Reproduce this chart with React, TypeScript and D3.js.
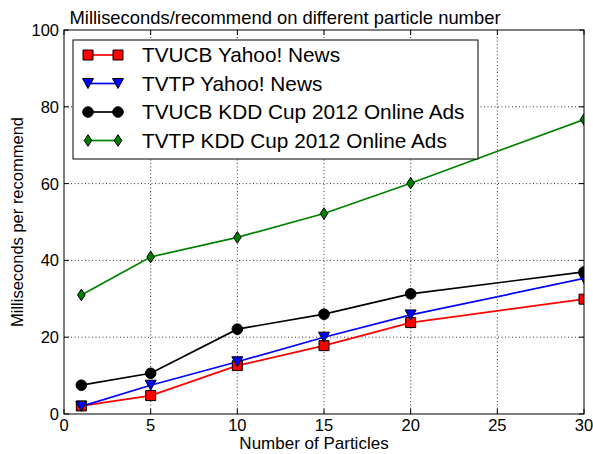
import { line, scaleLinear } from 'd3'

const particles = [1, 5, 10, 15, 20, 30]
const tvucbYahoo = [2.1, 4.8, 12.6, 17.8, 23.8, 29.9]
const tvtpYahoo = [2.0, 7.5, 13.6, 20.0, 25.8, 35.3]
const tvucbKdd = [7.5, 10.6, 22.1, 26.0, 31.3, 37.0]
const tvtpKdd = [31.0, 40.9, 46.0, 52.2, 60.1, 76.7]
const xTicks = [0, 5, 10, 15, 20, 25, 30]
const yTicks = [0, 20, 40, 60, 80, 100]

type Marker = 'square' | 'triangleDown' | 'circle' | 'thinDiamond'

type Series = {
  readonly label: string
  readonly values: readonly number[]
  readonly color: string
  readonly marker: Marker
}

const series: Series[] = [
  { label: 'TVUCB Yahoo! News', values: tvucbYahoo, color: '#ff0000', marker: 'square' },
  { label: 'TVTP Yahoo! News', values: tvtpYahoo, color: '#0000ff', marker: 'triangleDown' },
  { label: 'TVUCB KDD Cup 2012 Online Ads', values: tvucbKdd, color: '#000000', marker: 'circle' },
  { label: 'TVTP KDD Cup 2012 Online Ads', values: tvtpKdd, color: '#008000', marker: 'thinDiamond' },
]

const width = 593
const height = 454
const left = 64
const right = 584
const top = 30
const bottom = 414
const font = '"Liberation Sans", Arial, sans-serif'

function markerPath(marker: Marker): string {
  switch (marker) {
    case 'square':
      return 'M-5,-5H5V5H-5Z'
    case 'triangleDown':
      return 'M0,5L-5.5,-5H5.5Z'
    case 'circle':
      return 'M5.3,0A5.3,5.3 0 1 1 -5.3,0A5.3,5.3 0 1 1 5.3,0Z'
    case 'thinDiamond':
      return 'M0,-5.8L3.8,0L0,5.8L-3.8,0Z'
  }
}

function MarkerShape({ marker, color, x, y }: { marker: Marker; color: string; x: number; y: number }) {
  return (
    <path
      d={markerPath(marker)}
      transform={`translate(${x},${y})`}
      fill={color}
      stroke="#000"
      strokeWidth={1}
    />
  )
}

export default function App() {
  const xScale = scaleLinear().domain([0, 30]).range([left, right])
  const yScale = scaleLinear().domain([0, 100]).range([bottom, top])
  const pathFor = line<number>()
    .x((_, i) => xScale(particles[i]))
    .y((value) => yScale(value))

  const legendX = 73
  const legendY = 40
  const legendW = 405
  const legendH = 119
  const rowGap = 28.5

  return (
    <svg
      width={width}
      height={height}
      style={{ position: 'fixed', left: 0, top: 0, background: '#fff' }}
      fontFamily={font}
    >
      <defs>
        <clipPath id="plot-area">
          <rect x={left} y={top} width={right - left} height={bottom - top} />
        </clipPath>
      </defs>

      {/* grid */}
      {xTicks.slice(1, -1).map((t) => (
        <line
          key={`gx-${t}`}
          x1={xScale(t)}
          x2={xScale(t)}
          y1={top}
          y2={bottom}
          stroke="#000"
          strokeWidth={0.8}
          strokeDasharray="1,2.5"
        />
      ))}
      {yTicks.slice(1, -1).map((t) => (
        <line
          key={`gy-${t}`}
          x1={left}
          x2={right}
          y1={yScale(t)}
          y2={yScale(t)}
          stroke="#000"
          strokeWidth={0.8}
          strokeDasharray="1,2.5"
        />
      ))}

      {/* ticks, inward on every side */}
      {xTicks.map((t) => (
        <g key={`tx-${t}`} stroke="#000" strokeWidth={1}>
          <line x1={xScale(t)} x2={xScale(t)} y1={bottom} y2={bottom - 5} />
          <line x1={xScale(t)} x2={xScale(t)} y1={top} y2={top + 5} />
        </g>
      ))}
      {yTicks.map((t) => (
        <g key={`ty-${t}`} stroke="#000" strokeWidth={1}>
          <line x1={left} x2={left + 5} y1={yScale(t)} y2={yScale(t)} />
          <line x1={right} x2={right - 5} y1={yScale(t)} y2={yScale(t)} />
        </g>
      ))}

      {/* data */}
      <g clipPath="url(#plot-area)">
        {series.map((s) => (
          <path key={`l-${s.label}`} d={pathFor(s.values as number[]) ?? ''} fill="none" stroke={s.color} strokeWidth={1.7} />
        ))}
        {series.map((s) =>
          s.values.map((v, i) => (
            <MarkerShape key={`m-${s.label}-${i}`} marker={s.marker} color={s.color} x={xScale(particles[i])} y={yScale(v)} />
          )),
        )}
      </g>

      <rect x={left} y={top} width={right - left} height={bottom - top} fill="none" stroke="#000" strokeWidth={1} />

      {/* tick labels */}
      {xTicks.map((t) => (
        <text key={`lx-${t}`} x={xScale(t)} y={431} textAnchor="middle" fontSize={16.5}>
          {t}
        </text>
      ))}
      {yTicks.map((t) => (
        <text key={`ly-${t}`} x={left - 5} y={yScale(t) + 6} textAnchor="end" fontSize={16.5}>
          {t}
        </text>
      ))}

      {/* titles */}
      <text x={285} y={24} textAnchor="middle" fontSize={18.4}>
        Milliseconds/recommend on different particle number
      </text>
      <text x={(left + right) / 2 - 10} y={449} textAnchor="middle" fontSize={17}>
        Number of Particles
      </text>
      <text
        transform={`translate(23,${(top + bottom) / 2}) rotate(-90)`}
        textAnchor="middle"
        fontSize={16.5}
      >
        Milliseconds per recommend
      </text>

      {/* legend */}
      <rect x={legendX} y={legendY} width={legendW} height={legendH} fill="#fff" stroke="#000" strokeWidth={1} />
      {series.map((s, i) => {
        const cy = legendY + 15 + i * rowGap
        return (
          <g key={`lg-${s.label}`}>
            <line x1={88} x2={118} y1={cy} y2={cy} stroke={s.color} strokeWidth={1.7} />
            <MarkerShape marker={s.marker} color={s.color} x={88} y={cy} />
            <MarkerShape marker={s.marker} color={s.color} x={118} y={cy} />
            <text x={142} y={cy + 7} fontSize={20.8}>
              {s.label}
            </text>
          </g>
        )
      })}
    </svg>
  )
}
